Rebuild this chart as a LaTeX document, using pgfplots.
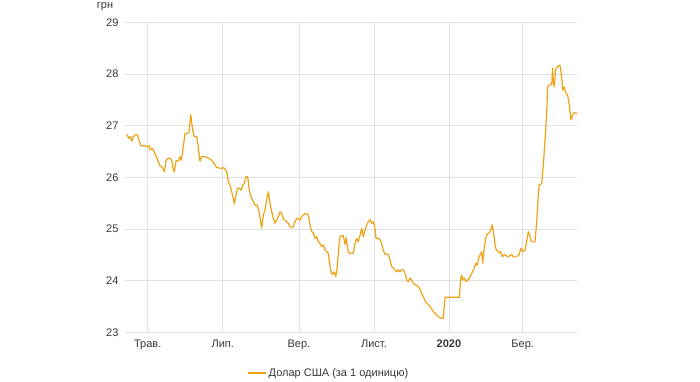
\documentclass[border=0pt]{standalone}
\usepackage{pgfplots}
\pgfplotsset{compat=1.18}
\usepackage{fontspec}
\setmainfont{Liberation Sans}
\definecolor{usd}{RGB}{238,162,20}
\definecolor{gridc}{RGB}{224,224,224}
\definecolor{txt}{RGB}{55,55,55}
\begin{document}
\begin{tikzpicture}[x=1pt,y=1pt]
\useasboundingbox (0,0) rectangle (700,381);
\node[anchor=center, font=\fontsize{11}{13}\selectfont, text=txt] at (105,374) {грн};
\begin{axis}[
  at={(125pt,48.7pt)}, anchor=south west,
  scale only axis, width=452pt, height=310pt,
  xmin=-18.5, xmax=349.2, ymin=23, ymax=29,
  axis line style={draw=none},
  major tick length=0pt,
  grid=major,
  grid style={gridc, line width=0.8pt},
  xtick={0,61,123,184,245,305},
  xticklabels={Трав.,Лип.,Вер.,Лист.,\textbf{2020},Бер.},
  ytick={23,24,25,26,27,28,29},
  tick label style={font=\fontsize{11}{13}\selectfont, text=txt},
  xticklabel style={yshift=-4pt},
  yticklabel style={xshift=-3pt},
  /pgf/number format/assume math mode=true,
  legend style={at={(0.451,-0.131)}, anchor=center, draw=none, fill=none,
    font=\fontsize{11}{13}\selectfont, text=txt},
  legend image code/.code={\draw[#1] (0pt,0pt) -- (18pt,0pt);},
]
\addplot[usd, line width=1.2pt, line join=round] coordinates {
(-17.1,26.83) (-15.2,26.75) (-14.4,26.79) (-13.0,26.70) (-11.7,26.79) (-9.8,26.83)
(-8.5,26.82) (-7.1,26.72) (-5.7,26.61) (-2.2,26.61) (-0.8,26.59) (1.3,26.61)
(1.9,26.53) (3.3,26.56) (4.6,26.53) (5.9,26.45) (7.3,26.40) (8.6,26.30)
(10.0,26.22) (11.9,26.19) (13.5,26.11) (14.9,26.33) (16.8,26.37) (18.1,26.37)
(19.5,26.33) (20.8,26.14) (21.6,26.11) (23.0,26.32) (24.9,26.32) (26.3,26.40)
(27.1,26.33) (28.1,26.46) (29.5,26.69) (30.3,26.85) (32.5,26.85) (33.6,26.88)
(35.0,27.21) (36.3,26.95) (37.7,26.79) (39.9,26.79) (41.2,26.56) (42.5,26.31)
(43.9,26.40) (46.6,26.40) (49.3,26.37) (52.1,26.33) (54.7,26.24) (56.1,26.19)
(60.2,26.17) (61.5,26.19) (62.9,26.16) (64.3,26.11) (65.6,25.91) (66.9,25.85)
(68.3,25.72) (69.6,25.59) (70.4,25.48) (71.8,25.66) (73.2,25.79) (74.5,25.79)
(75.9,25.75) (77.3,25.85) (78.6,25.88) (79.7,26.01) (81.3,26.01) (82.6,25.75)
(84.0,25.62) (85.9,25.53) (87.3,25.46) (89.1,25.46) (90.5,25.33) (91.9,25.14)
(92.7,25.02) (94.0,25.27) (95.4,25.37) (96.8,25.56) (98.1,25.72) (99.5,25.50)
(100.9,25.33) (102.2,25.20) (103.5,25.11) (104.9,25.17) (106.2,25.24) (107.6,25.33)
(109.0,25.30) (110.3,25.20) (111.7,25.17) (114.4,25.11) (115.7,25.04) (118.4,25.04)
(119.8,25.14) (121.2,25.20) (122.5,25.20) (123.9,25.17) (125.3,25.24) (126.6,25.27)
(128.0,25.30) (130.6,25.28) (132.0,25.08) (133.4,24.95) (134.7,24.92) (136.1,24.82)
(137.5,24.85) (138.8,24.75) (140.1,24.72) (141.5,24.66) (142.8,24.69) (144.2,24.59)
(145.6,24.56) (146.9,24.53) (147.7,24.37) (149.1,24.17) (150.5,24.12) (151.8,24.17)
(152.9,24.08) (153.7,24.17) (154.5,24.37) (155.6,24.69) (156.4,24.85) (157.8,24.87)
(159.1,24.87) (160.5,24.70) (161.4,24.83) (163.2,24.55) (164.5,24.53) (167.2,24.53)
(168.6,24.72) (170.0,24.82) (171.3,24.75) (172.7,24.88) (174.1,25.01) (175.4,24.85)
(176.8,24.98) (178.2,25.08) (179.4,25.14) (180.8,25.18) (182.2,25.11) (183.5,25.14)
(184.9,25.01) (185.7,24.82) (187.6,24.82) (189.0,24.79) (190.3,24.72) (191.6,24.59)
(193.0,24.51) (195.7,24.51) (197.1,24.40) (198.5,24.27) (199.8,24.24) (201.1,24.21)
(202.5,24.17) (203.8,24.21) (205.2,24.17) (206.6,24.21) (207.9,24.21) (209.3,24.14)
(210.7,24.01) (212.0,23.98) (213.3,24.05) (214.7,24.01) (216.0,23.95) (217.4,23.92)
(218.8,23.91) (220.1,23.88) (221.5,23.84) (222.9,23.74) (224.2,23.69) (225.5,23.61)
(226.9,23.57) (228.2,23.53) (229.6,23.50) (231.0,23.45) (232.3,23.40) (233.7,23.37)
(235.1,23.34) (236.4,23.30) (237.7,23.29) (239.1,23.27) (240.4,23.27) (241.8,23.68)
(253.4,23.68) (254.8,24.08) (255.4,24.11) (256.2,24.01) (257.5,24.05) (258.9,23.98)
(260.3,24.01) (261.6,24.05) (263.0,24.11) (264.3,24.17) (265.6,24.24) (267.0,24.34)
(268.1,24.30) (269.5,24.46) (270.3,24.50) (271.7,24.56) (272.5,24.34) (273.5,24.59)
(274.9,24.82) (276.2,24.90) (277.6,24.92) (279.0,24.98) (280.3,25.08) (281.7,24.85)
(283.0,24.63) (284.3,24.58) (285.7,24.54) (287.1,24.56) (288.4,24.46) (289.8,24.50)
(290.6,24.50) (293.3,24.46) (296.1,24.51) (297.4,24.46) (300.1,24.46) (302.0,24.50)
(303.6,24.63) (305.0,24.56) (306.9,24.59) (308.2,24.75) (309.6,24.95) (311.0,24.85)
(312.3,24.75) (315.0,24.75) (316.4,25.14) (317.7,25.66) (318.5,25.85) (320.5,25.88)
(321.8,26.24) (323.1,26.69) (324.5,27.21) (325.3,27.75) (327.2,27.80) (328.6,27.79)
(329.4,28.11) (329.9,27.85) (330.7,27.75) (331.8,28.08) (333.1,28.14) (335.3,28.17)
(336.7,27.95) (337.5,27.69) (338.8,27.75) (340.2,27.63) (341.6,27.59) (342.9,27.40)
(344.3,27.11) (345.7,27.21) (347.0,27.25) (348.9,27.24) (349.7,27.21)
};
\addlegendentry{Долар США (за 1 одиницю)}
\end{axis}
\end{tikzpicture}
\end{document}
